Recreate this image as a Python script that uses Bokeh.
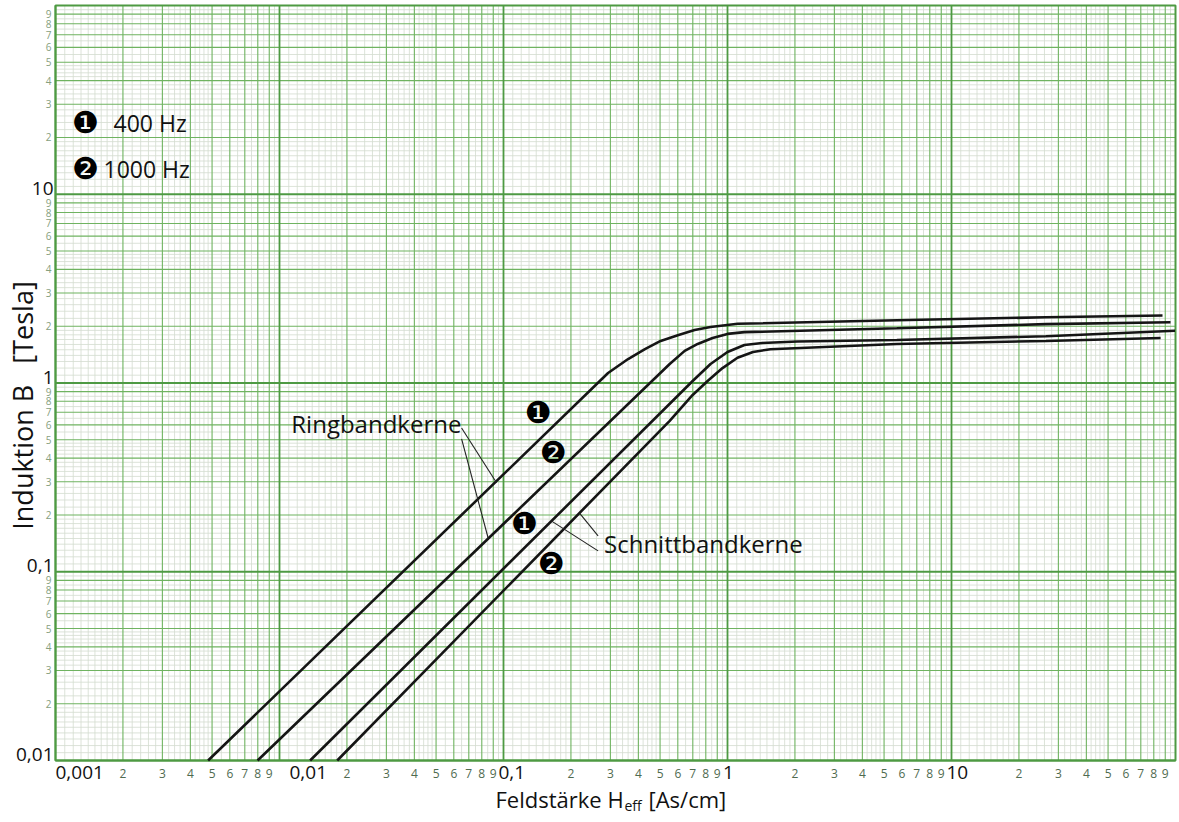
import math
from bokeh.plotting import figure
from bokeh.models import ColumnDataSource, Label, LabelSet, Range1d
from bokeh.embed import file_html
from bokeh.resources import INLINE
from bokeh.core.properties import value

# ---------------- data ----------------
# Ringbandkerne, 400 Hz
ring_400_h = [0.0048, 0.293, 0.36, 0.428, 0.503, 0.60, 0.713, 0.84, 1.11, 5.7, 26.4, 87.5]
ring_400_b = [0.01, 1.13, 1.34, 1.51, 1.67, 1.79, 1.91, 1.98, 2.06, 2.15, 2.23, 2.28]
# Ringbandkerne, 1000 Hz
ring_1000_h = [0.00798, 0.552, 0.644, 0.736, 0.858, 1.0, 1.19, 5.7, 26.4, 95.0]
ring_1000_b = [0.01, 1.26, 1.48, 1.61, 1.73, 1.82, 1.86, 1.95, 2.05, 2.10]
# Schnittbandkerne, 400 Hz
schnitt_400_h = [0.0137, 0.699, 0.84, 1.0, 1.19, 1.43, 2.05, 5.7, 26.4, 99.5]
schnitt_400_b = [0.01, 1.025, 1.26, 1.46, 1.59, 1.63, 1.66, 1.69, 1.77, 1.89]
# Schnittbandkerne, 1000 Hz
schnitt_1000_h = [0.0181, 0.552, 0.699, 0.815, 0.950, 1.108, 1.30, 1.553, 5.7, 26.4, 85.8]
schnitt_1000_b = [0.01, 0.630, 0.864, 1.025, 1.20, 1.36, 1.46, 1.51, 1.61, 1.67, 1.73]

x_decade_values = [0.001, 0.01, 0.1, 1, 10]
x_decade_labels = ["0,001", "0,01", "0,1", "1", "10"]
y_decade_values = [0.01, 0.1, 1, 10]
y_decade_labels = ["0,01", "0,1", "1", "10"]
minor_digits = [2, 3, 4, 5, 6, 7, 8, 9]
x_exponents = [-3, -2, -1, 0, 1]
y_exponents = [-2, -1, 0, 1]

legend_symbols = ["\u2776", "\u2777"]
legend_texts = ["400 Hz", "1000 Hz"]

# ---------------- layout ----------------
W, H = 1177, 818
CH_LEFT, CH_RIGHT, CH_TOP, CH_BOTTOM = 55, 1175, 5, 760     # chart box in pixels
X0, X1, Y0, Y1 = 0.001, 100.0, 0.01, 100.0
PX_X = (CH_RIGHT - CH_LEFT) / math.log10(X1 / X0)
PX_Y = (CH_BOTTOM - CH_TOP) / math.log10(Y1 / Y0)
xr = Range1d(X0 * 10 ** (-CH_LEFT / PX_X), X1 * 10 ** ((W - CH_RIGHT) / PX_X))
yr = Range1d(Y0 * 10 ** (-(H - CH_BOTTOM) / PX_Y), Y1 * 10 ** (CH_TOP / PX_Y))


def sx_of(v):
    return CH_LEFT + math.log10(v / X0) * PX_X


def sy_of(v):  # screen y measured from bottom of figure
    return (H - CH_BOTTOM) + math.log10(v / Y0) * PX_Y


FONT = "Open Sans"
CIRC_FONT = "DejaVu Sans"
DECADE_GREEN = "#4e9a43"
INT_GREEN = "#6fb360"
SUB_GREY = "#d3dccf"
INK = "#111111"

p = figure(width=W, height=H, x_axis_type="log", y_axis_type="log",
           x_axis_location=None, y_axis_location=None,
           x_range=xr, y_range=yr,
           output_backend="svg", toolbar_location=None,
           min_border_left=0, min_border_right=0, min_border_top=0, min_border_bottom=0,
           background_fill_color="white", border_fill_color="white")
p.outline_line_color = None
p.xgrid.visible = False
p.ygrid.visible = False

sub_mults = [1.1, 1.2, 1.3, 1.4, 1.5, 1.6, 1.7, 1.8, 1.9,
             2.2, 2.4, 2.6, 2.8, 3.2, 3.4, 3.6, 3.8, 4.2, 4.4, 4.6, 4.8,
             5.5, 6.5, 7.5, 8.5, 9.5]


def ticks(mults, exps):
    return [m * 10.0 ** e for e in exps for m in mults]


def grid_lines(xs, ys, color, width):
    p.segment(x0=xs, y0=[Y0] * len(xs), x1=xs, y1=[Y1] * len(xs), line_color=color, line_width=width)
    p.segment(x0=[X0] * len(ys), y0=ys, x1=[X1] * len(ys), y1=ys, line_color=color, line_width=width)


grid_lines(ticks(sub_mults, x_exponents), ticks(sub_mults, y_exponents), SUB_GREY, 0.8)
grid_lines(ticks(minor_digits, x_exponents), ticks(minor_digits, y_exponents), INT_GREEN, 1.1)
grid_lines(ticks([1], x_exponents), ticks([1], y_exponents), DECADE_GREEN, 1.8)
p.quad(left=[X0], right=[X1], bottom=[Y0], top=[Y1], fill_color=None,
       line_color=DECADE_GREEN, line_width=2)

# curves
for hs, bs in ((ring_400_h, ring_400_b), (ring_1000_h, ring_1000_b),
               (schnitt_400_h, schnitt_400_b), (schnitt_1000_h, schnitt_1000_b)):
    p.line(hs, bs, line_color="#151515", line_width=2.6)

# ---------------- tick labels ----------------
xm_vals = ticks(minor_digits, x_exponents)
xm_src = ColumnDataSource(dict(x=xm_vals, y=[H - 773] * len(xm_vals),
                               t=[str(d) for e in x_exponents for d in minor_digits]))
p.add_layout(LabelSet(x="x", y="y", text="t", source=xm_src, x_units="data", y_units="screen",
                      text_font=value(FONT), text_font_size="12px", text_color="#4f6b4f",
                      text_align="center", text_baseline="middle"))

ym_vals = ticks(minor_digits, y_exponents)
ym_src = ColumnDataSource(dict(x=[48] * len(ym_vals), y=ym_vals,
                               t=[str(d) for e in y_exponents for d in minor_digits]))
p.add_layout(LabelSet(x="x", y="y", text="t", source=ym_src, x_units="screen", y_units="data",
                      text_font=value(FONT), text_font_size="10px", text_color="#86a07e",
                      text_align="center", text_baseline="middle"))

x_offsets = [0, 10, -5, 1, -5]
x_aligns = ["left", "left", "left", "center", "left"]
for v, lab, off, al in zip(x_decade_values, x_decade_labels, x_offsets, x_aligns):
    p.add_layout(Label(x=sx_of(v) + off, y=H - 772, x_units="screen", y_units="screen", text=lab,
                       text_font=FONT, text_font_size="19px", text_color=INK,
                       text_align=al, text_baseline="middle"))

for v, lab in zip(y_decade_values, y_decade_labels):
    p.add_layout(Label(x=53, y=sy_of(v) + 6, x_units="screen", y_units="screen", text=lab,
                       text_font=FONT, text_font_size="19px", text_color=INK,
                       text_align="right", text_baseline="middle"))

# axis titles
p.add_layout(Label(x=495, y=H - 798, x_units="screen", y_units="screen", text="Feldstärke H",
                   text_font=FONT, text_font_size="22px", text_color=INK,
                   text_align="left", text_baseline="middle"))
p.add_layout(Label(x=624, y=H - 805, x_units="screen", y_units="screen", text="eff",
                   text_font=FONT, text_font_size="14px", text_color=INK,
                   text_align="left", text_baseline="middle"))
p.add_layout(Label(x=648, y=H - 798, x_units="screen", y_units="screen", text="[As/cm]",
                   text_font=FONT, text_font_size="22px", text_color=INK,
                   text_align="left", text_baseline="middle"))
p.add_layout(Label(x=22, y=H - 405, x_units="screen", y_units="screen",
                   text="Induktion B\u00a0\u00a0\u00a0[Tesla]",
                   angle=math.pi / 2, text_font=FONT, text_font_size="27px", text_color=INK,
                   text_align="center", text_baseline="middle"))

# legend
for i, (sym, txt) in enumerate(zip(legend_symbols, legend_texts)):
    ly = H - (122 + 46 * i)
    p.add_layout(Label(x=85, y=ly, x_units="screen", y_units="screen", text=sym,
                       text_font=CIRC_FONT, text_font_size="30px", text_color="#000000",
                       text_align="center", text_baseline="middle"))
    p.add_layout(Label(x=113 - 10 * i, y=ly, x_units="screen", y_units="screen", text=txt,
                       text_font=FONT, text_font_size="23px", text_color=INK,
                       text_align="left", text_baseline="middle"))

# curve annotations
p.add_layout(Label(x=0.01129, y=0.607, text="Ringbandkerne", text_font=FONT, text_font_size="24px",
                   text_color=INK, text_align="left", text_baseline="middle"))
p.add_layout(Label(x=0.281, y=0.1406, text="Schnittbandkerne", text_font=FONT, text_font_size="24px",
                   text_color=INK, text_align="left", text_baseline="middle"))

lead_x0 = [0.0650, 0.0650, 0.2644, 0.2644]
lead_y0 = [0.578, 0.506, 0.155, 0.129]
lead_x1 = [0.0931, 0.0855, 0.218, 0.1634]
lead_y1 = [0.296, 0.150, 0.205, 0.186]
p.segment(lead_x0, lead_y0, lead_x1, lead_y1, line_color="#222222", line_width=1.1)

mark_x = [0.143, 0.1668, 0.124, 0.1634]
mark_y = [0.694, 0.427, 0.1795, 0.110]
mark_t = [legend_symbols[0], legend_symbols[1], legend_symbols[0], legend_symbols[1]]
for mx, my, mt in zip(mark_x, mark_y, mark_t):
    p.add_layout(Label(x=mx, y=my, text=mt, text_font=CIRC_FONT, text_font_size="30px",
                       text_color="#000000", text_align="center", text_baseline="middle"))

open("out.html", "w").write(file_html(p, INLINE))
